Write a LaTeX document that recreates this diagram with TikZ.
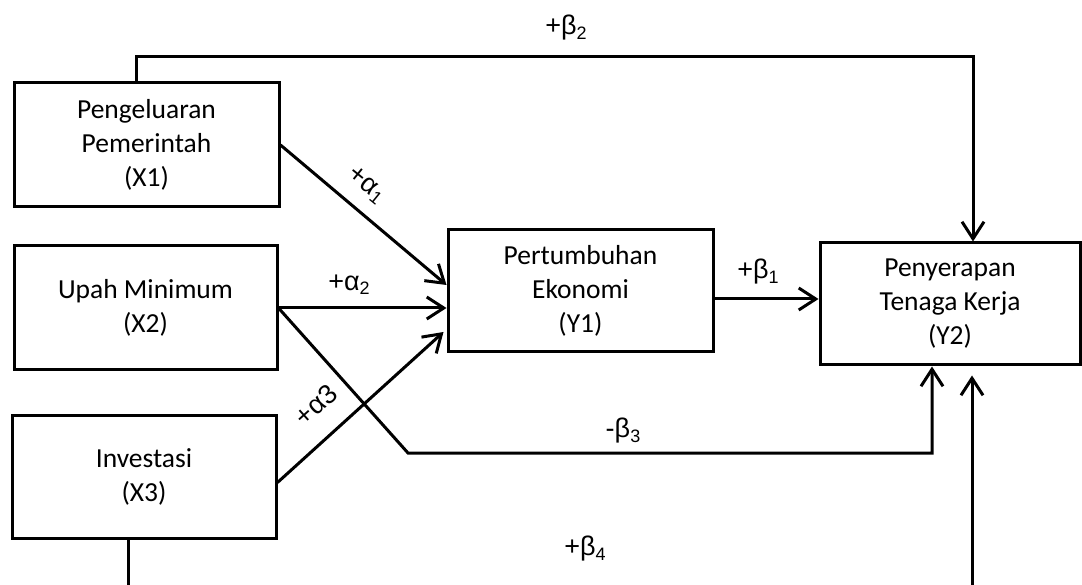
\documentclass[tikz,border=0pt]{standalone}
\usepackage{fontspec}
\setmainfont{Carlito}
\newfontfamily\labfont{Liberation Sans}
\usetikzlibrary{arrows.meta}
\newcommand{\mysub}[1]{\raisebox{-0.15em}{\fontsize{18}{18}\selectfont #1}}
\begin{document}
\begin{tikzpicture}[x=1pt,y=-1pt,
  box/.style={draw,line width=3pt,align=center,inner sep=0pt,
    font=\fontsize{27.5}{34}\selectfont},
  conn/.style={line width=3pt},
  arr/.style={conn,-{Straight Barb[length=17pt,width=22pt,line width=3pt]}},
  lab/.style={font=\labfont\fontsize{27}{28}\selectfont,inner sep=0pt}]
\useasboundingbox (0,0) rectangle (1082,585);
% boxes
\node[box,minimum width=265pt,minimum height=124pt] (X1) at (146.5,145) {Pengeluaran\\Pemerintah\\(X1)};
\node[box,minimum width=263pt,minimum height=124pt] (X2) at (145.5,308) {Upah Minimum\\(X2)};
\node[box,minimum width=264pt,minimum height=123pt] (X3) at (144,476.5) {Investasi\\(X3)};
\node[box,minimum width=265pt,minimum height=122pt] (Y1) at (580.5,291) {Pertumbuhan\\Ekonomi\\(Y1)};
\node[box,minimum width=260pt,minimum height=122pt] (Y2) at (950,304) {Penyerapan\\Tenaga Kerja\\(Y2)};
% helper coordinates
\coordinate (b2c) at (973,57);
\coordinate (b3a) at (408,453);
\coordinate (b3b) at (932,453);
\coordinate (b4a) at (128,585);
\coordinate (b4b) at (972,585);
% connectors
\draw[arr] ([xshift=-10.5pt]X1.north) |- (b2c) -- (b2c |- Y2.north);
\draw[arr] (X1.east) -- ([yshift=6pt]Y1.west);
\draw[arr] (X2.east) -- (X2.east -| Y1.west);
\draw[arr] ([yshift=-6pt]X3.east) -- ([xshift=-3pt,yshift=-41pt]Y1.west);
\draw[arr] ([yshift=-8pt]Y1.east) -- ([yshift=-8pt]Y1.east -| Y2.west);
\draw[arr] (X2.east) -- (b3a) -- (b3b) -- (b3b |- Y2.south);
\draw[conn] ([xshift=-16pt]X3.south) -- (b4a);
\draw[arr] (b4b) -- ([yshift=-9pt]b4b |- Y2.south);
% labels
\node[lab] (lb2) at (566,28) {+β\mysub{2}};
\node[lab,rotate=-39] (la1) at (366,185) {+α\mysub{1}};
\node[lab] (la2) at (349,285) {+α\mysub{2}};
\node[lab,rotate=42] (la3) at (316,405) {+α3};
\node[lab] (lb1) at (758,272) {+β\mysub{1}};
\node[lab] (lb3) at (623,431) {-β\mysub{3}};
\node[lab] (lb4) at (585,549) {+β\mysub{4}};
\end{tikzpicture}
\end{document}
